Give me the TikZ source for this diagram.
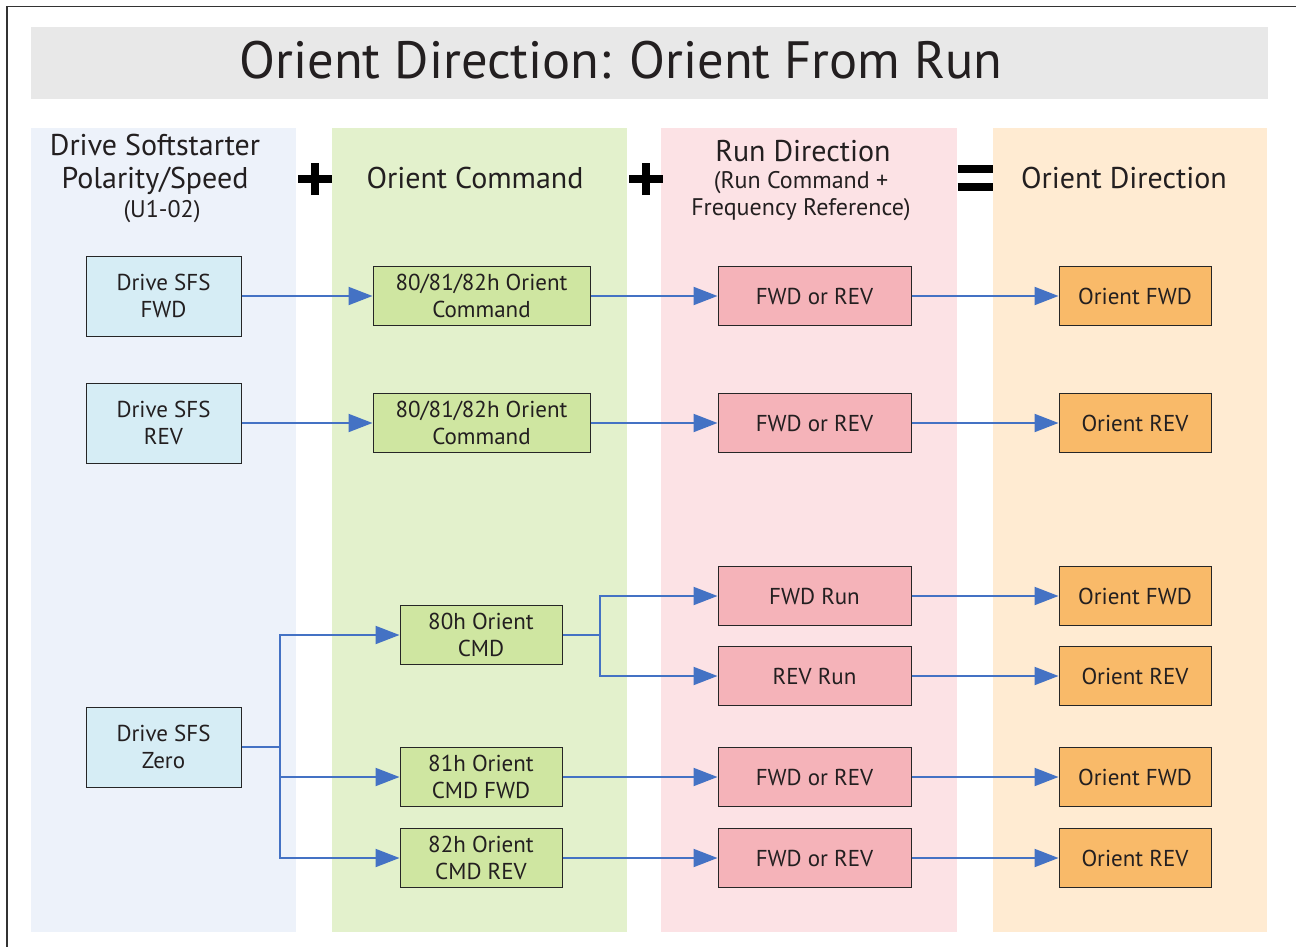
\documentclass[tikz,border=0pt]{standalone}
\usepackage{fontspec}
\setmainfont{PT Sans}
\usetikzlibrary{arrows.meta}
\definecolor{txt}{HTML}{231F20}
\definecolor{titleband}{HTML}{E8E8E8}
\definecolor{blueband}{HTML}{EDF2FA}
\definecolor{greenband}{HTML}{E3F1CC}
\definecolor{redband}{HTML}{FCE2E5}
\definecolor{orangeband}{HTML}{FFEBD2}
\definecolor{bluefill}{HTML}{D6EDF5}
\definecolor{greenfill}{HTML}{CFE6A1}
\definecolor{redfill}{HTML}{F5B3B9}
\definecolor{orangefill}{HTML}{F9BA69}
\definecolor{arrowblue}{HTML}{4472C4}
\newcommand\boxfont{\fontsize{23}{27}\selectfont}
\newcommand\headfont{\fontsize{30}{33}\selectfont}
\newcommand\subfont{\fontsize{24}{27}\selectfont}
\begin{document}
\begin{tikzpicture}[x=1pt,y=-1pt,
  box/.style={draw=black!85, line width=1pt, inner sep=0pt, align=center, font=\boxfont, text=txt},
  bluebox/.style={box, fill=bluefill, minimum width=155pt, minimum height=80pt},
  greenbox/.style={box, fill=greenfill, minimum height=59pt},
  redbox/.style={box, fill=redfill, minimum width=193pt, minimum height=59pt},
  orangebox/.style={box, fill=orangefill, minimum width=152pt, minimum height=59pt},
  head/.style={align=center, text=txt, inner sep=0pt},
  conn/.style={draw=arrowblue, line width=2pt, -{Triangle[length=24pt,width=18pt]}},
  wire/.style={draw=arrowblue, line width=2pt},
  sign/.style={line width=8pt, black}
]
\useasboundingbox (0,0) rectangle (1296,947);
% frame
\draw[line width=1.5pt, black!80] (7,947) -- (7,6.5) -- (1296,6.5);
% bands
\fill[titleband] (31,27) rectangle (1268,99);
\fill[blueband] (31,128) rectangle (296,932);
\fill[greenband] (332,128) rectangle (627,932);
\fill[redband] (661,128) rectangle (957,932);
\fill[orangeband] (993,128) rectangle (1267,932);
% title
\node[head, font=\fontsize{52.5}{60}\selectfont] (title) at (621,60) {Orient Direction: Orient From Run};
% headers
\node[head, font=\headfont] (h1) at (155,164) {Drive Softstarter\\Polarity/Speed};
\node[head, font=\subfont] (h1s) at (162,212) {(U1-02)};
\node[head, font=\headfont] (h2) at (475,178) {Orient Command};
\node[head, font=\headfont] (h3) at (803,151) {Run Direction};
\node[head, font=\subfont] (h3s) at (801,196) {(Run Command +\\Frequency Reference)};
\node[head, font=\headfont] (h4) at (1124,178) {Orient Direction};
% signs
\coordinate (p1) at (315,179);
\coordinate (p2) at (646,179);
\draw[sign] ([xshift=-17pt]p1) -- ([xshift=17pt]p1);
\draw[sign] ([yshift=-16pt]p1) -- ([yshift=16pt]p1);
\draw[sign] ([xshift=-17pt]p2) -- ([xshift=17pt]p2);
\draw[sign] ([yshift=-16pt]p2) -- ([yshift=16pt]p2);
\coordinate (eq) at (975,178);
\draw[sign] ([shift={(-17.5pt,-9pt)}]eq) -- ([shift={(17.5pt,-9pt)}]eq);
\draw[sign] ([shift={(-17.5pt,9pt)}]eq) -- ([shift={(17.5pt,9pt)}]eq);
% blue boxes
\node[bluebox] (b1) at (163.5,296) {Drive SFS\\FWD};
\node[bluebox] (b2) at (163.5,423) {Drive SFS\\REV};
\node[bluebox] (b3) at (163.5,747) {Drive SFS\\Zero};
% green boxes
\node[greenbox, minimum width=217pt] (g1) at (481.5,296) {80/81/82h Orient\\Command};
\node[greenbox, minimum width=217pt] (g2) at (481.5,423) {80/81/82h Orient\\Command};
\node[greenbox, minimum width=162pt] (g3) at (481,635) {80h Orient\\CMD};
\node[greenbox, minimum width=162pt] (g4) at (481,777) {81h Orient\\CMD FWD};
\node[greenbox, minimum width=162pt] (g5) at (481,858) {82h Orient\\CMD REV};
% red boxes
\node[redbox] (r1) at (814.5,296) {FWD or REV};
\node[redbox] (r2) at (814.5,423) {FWD or REV};
\node[redbox] (r3) at (814.5,596) {FWD Run};
\node[redbox] (r4) at (814.5,676) {REV Run};
\node[redbox] (r5) at (814.5,777) {FWD or REV};
\node[redbox] (r6) at (814.5,858) {FWD or REV};
% orange boxes
\node[orangebox] (o1) at (1135,296) {Orient FWD};
\node[orangebox] (o2) at (1135,423) {Orient REV};
\node[orangebox] (o3) at (1135,596) {Orient FWD};
\node[orangebox] (o4) at (1135,676) {Orient REV};
\node[orangebox] (o5) at (1135,777) {Orient FWD};
\node[orangebox] (o6) at (1135,858) {Orient REV};
% connectors
\draw[conn] (b1.east) -- (g1.west);
\draw[conn] (b2.east) -- (g2.west);
\draw[conn] (g1.east) -- (r1.west);
\draw[conn] (g2.east) -- (r2.west);
\coordinate (zj) at (280,747);
\draw[wire] (b3.east) -- (zj);
\draw[conn] (zj) |- (g3.west);
\draw[conn] (zj) |- (g4.west);
\draw[conn] (zj) |- (g5.west);
\coordinate (hj) at (600,635);
\draw[wire] (g3.east) -- (hj);
\draw[conn] (hj) |- (r3.west);
\draw[conn] (hj) |- (r4.west);
\draw[conn] (g4.east) -- (r5.west);
\draw[conn] (g5.east) -- (r6.west);
\draw[conn] (r1.east) -- (o1.west);
\draw[conn] (r2.east) -- (o2.west);
\draw[conn] (r3.east) -- (o3.west);
\draw[conn] (r4.east) -- (o4.west);
\draw[conn] (r5.east) -- (o5.west);
\draw[conn] (r6.east) -- (o6.west);
\end{tikzpicture}
\end{document}
